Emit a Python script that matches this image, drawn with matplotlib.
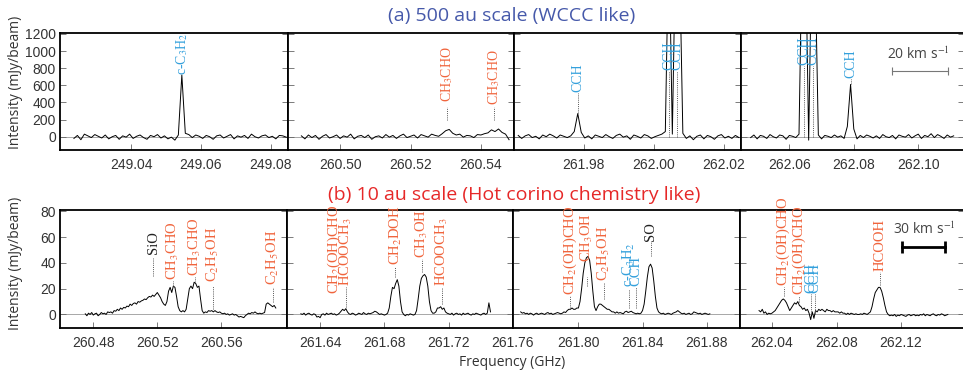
import numpy as np
import matplotlib
matplotlib.use("Agg")
import matplotlib.pyplot as plt

plt.rcParams['mathtext.fontset'] = 'stix'

ORANGE = '#f0643c'
BLUE = '#33a0dc'
DARK = '#222222'

# ------------------------------------------------------------------
# spectra: first channel (GHz), channel width 1 MHz, intensity (mJy/beam)
STEP = 0.001

# (a) 500 au scale
a_start = [249.0235, 260.489, 261.9613, 262.048]
a1 = [-20, 15, -35, 30, 10, -10, 25, 5, -15, 20, -25, 0, 15, -30, 10, -5, 30, -20, 5, 20,
      -10, -30, 15, 0, 25, -15, 10, -25, -5, -40, 20,
      720,
      40, 25, -10, 20, 5, -20, 15, 0, -30, 10, 20, -15, 5, 25, -25, 10, -5, 15, -20, 30,
      0, -15, 10, 20, -10, 5, -25, 15, 10, -5]
a2 = [10, -25, 20, -10, 15, -30, 5, 25, -15, 0, 20, -20, 10, -5, 30, -25, 5, 15, -10, 20,
      -30, 0, 10, -15, 25, -5, 15, -20, 10, 30, -10, 5, 20, -15, 25, 10, -5, 30, 15, 5,
      35, 70, 85, 40, 20, 30, -5, 15, 10, -10, 25, 20, 35, 45, 80, 60, 90, 50, 30, -35]
a3 = [15, -20, 10, 25, -10, 5, -25, 20, 0, 30, 10, -15, 20, 5, -10, 10,
      60, 270, 50,
      -15, 10, -25, 20, 5, -10, 25, 0, -20, 15, 30, -5, 10, -30, 20, 5, -15, 25, 10, -20, 0, 15, 30,
      60, 2400, 30, 2400, 2200, 40,
      -20, 10, -35, 5, 20, -25, 15, 0, -30, 10, 25, -15, 5, -20, 15, -10]
a4 = [-10, 20, -25, 15, 5, -20, 25, 0, -15, 20, 10, -30, 15, 5, -10,
      30, 2300, 2300, -40, 2300, 2000, 20,
      -25, 15, 5, -10, 20, -5, 10, -20,
      120, 610, 90,
      -25, 15, -10, 20, 5, -15, 10, -20, 25, 0, -10, 15, -25, 20, 5, -5, 25, -15, 10, 30,
      -20, 15, 0, 35, -10, 25, 5, -20, 20, -5, 10]

# (b) 10 au scale
b_start = [260.475, 261.628, 261.764, 262.032]
b1 = [0.5, -1, 1, 0, 1.5, -0.5, 0.5, 1, -1, 0, 1.5, 0.5, 1, 0, 2,
      1.5, 2, 1, 3, 2.5, 4, 3, 5, 4, 5.5, 5, 6.5, 6, 8, 7, 8.5, 9, 8, 10, 9.5,
      10.5, 11, 12, 11.5, 13, 14, 13.5, 15, 14, 15.5, 17,
      15, 13, 10, 8, 7, 10, 18, 21, 17, 22, 21, 14, 6, 3, 2, 3, 2, 4, 12, 20, 22, 20, 25, 24,
      21, 22, 12, 3, 1,
      2, 1.5, 3, 2.5, 3, 2, 3, 2, 1.5, 2, 1, 0.5, 1, 0, 0.5, -0.5, 0, 0.5, -0.5, 0,
      -1, -2, -1.5, -2, -2.5, -1, 0, 1, 0.5, 1.5, 1, 2, 1, 0.5, 1, 0.5, 1, 1.5,
      8, 9, 8, 7, 6, 7, 5]
b2 = [0.5, 0, 1, -0.5, 0.5, 1, 0, -0.5, 0.5, 0,
      -2, -1.5, -2.5,
      0, 0.5, -0.5, 1, 0, 0.5, 1, 0, 0.5, -0.5, 0, 1,
      2.5, 4, 3, 4.5, 2, 0.5,
      0, 1, 0.5, -0.5, 0, 1, 0.5, 0, 1.5, 0.5, 0, 1, 0.5, 1,
      1.5, 2.5, 2, 1, 0, 0.5, 0, -0.5,
      0, 1, 5, 14, 21, 20, 24, 27, 22, 10, 2, 0,
      -1, 0, -0.5, 0.5, 0, -0.5, 0,
      3, 12, 22, 28, 30, 31, 29, 22, 10, 3, 1, 1, 2, 5, 5, 6, 4, 5, 2,
      1, 0.5, 0, 1, -0.5, 0.5, 1, 0, 0.5, -0.5, 1, 0, 0.5, 1, 0, -0.5, 0.5, 0, 1, 0.5,
      0, -0.5, 0.5, 1, 0, 1, 9, 2]
b3 = [2, 1, 1.5, 0.5, 1, 0, 1, 0.5, -0.5, 0.5, 1, 0, 0.5, 1, 0.5, 0, 1, 1.5, 0.5, 1,
      0, 0.5, 1, 1.5, 1, 0.5, 1, 2, 1.5,
      3, 4, 4, 5, 4, 4, 5,
      5, 10, 20, 32, 40, 44, 45, 42, 32, 18, 6, 3, 6, 8, 8, 7, 6, 5, 4, 4, 3,
      2, 2, 1, 2, 1, 1.5, 1, 0.5, 2, 2.5, 1.5, 2, 2.5, 1.5, 1, 0.5, 1, 0.5,
      1, 3, 8, 18, 29, 37, 39, 36, 26, 14, 5, 2, 1,
      0.5, 1, 0, 0.5, 1, 0.5, 0, 1, 1.5, 2, 3, 2, 1, 0.5, 1, 0, 0.5, 1, 0, 0.5,
      2, 1.5, 1, 0.5, 1, 0, 0.5, 1, 0.5, 0, 0.5]
b4 = [3, 2, 4, 1, 2, 0, 1, 0.5, 1, 2, 3, 5, 7, 9, 11, 12, 11, 9, 6, 3, 5, 7, 9, 8, 10,
      7, 6, 4, 5, 3, 4, 1,
      -4, 2, -3, 3, 2,
      4, 3, 4, 3, 2, 4, 3, 3, 2, 3, 2, 2, 2, 1, 2, 1, 1, 0, 1, 0, 1, 0.5, 0, 0.5,
      0, 0, 0.5, 0, 1, 0.5, 0, 1,
      2, 6, 12, 17, 19, 21, 21, 18, 13, 7, 2, 0,
      -1, -0.5, -1, 0, -1.5, -0.5, -1, 0, -0.5, -1, -1.5, -0.5, 0, -1, -0.5, 0, -1, -0.5,
      -1, 0, -0.5, 0.5, -1, 0, -0.5, -1, 0, 0.5, -0.5, -1, 0, -0.5, 0.5, 0, -1, -0.5, 0]

# line identifications: (name, freq, colour, text bottom, dotted line top, dotted line bottom)
lab_a = [
    [("c-C$_3$H$_2$", 249.0545, BLUE, 715, 715, 715)],
    [("CH$_3$CHO", 260.5305, ORANGE, 410, 350, 190),
     ("CH$_3$CHO", 260.5437, ORANGE, 370, 350, 190)],
    [("CCH", 261.9783, BLUE, 525, 505, 280),
     ("CCH", 262.0043, BLUE, 780, 770, 0),
     ("CCH", 262.0065, BLUE, 780, 770, 0)],
    [("CCH", 262.0645, BLUE, 840, 830, 0),
     ("CCH", 262.0672, BLUE, 840, 830, 0),
     ("CCH", 262.0790, BLUE, 682, 670, 610)],
]
lab_b = [
    [("SiO", 260.5175, DARK, 47, 44, 30),
     ("CH$_3$CHO", 260.5300, ORANGE, 27, 26, 22),
     ("CH$_3$CHO", 260.5436, ORANGE, 30, 29, 25),
     ("C$_2$H$_5$OH", 260.5548, ORANGE, 25, 22, 4),
     ("C$_2$H$_5$OH", 260.5923, ORANGE, 23, 21, 10)],
    [("CH$_2$(OH)CHO", 261.6490, ORANGE, 16, 16, 16),
     ("HCOOCH$_3$", 261.6560, ORANGE, 22, 21, 6),
     ("CH$_2$DOH", 261.6869, ORANGE, 38, 37, 29),
     ("CH$_3$OH", 261.7036, ORANGE, 44, 43, 33),
     ("HCOOCH$_3$", 261.7160, ORANGE, 22, 21, 8)],
    [("CH$_2$(OH)CHO", 261.7948, ORANGE, 15, 14, 5),
     ("CH$_3$OH", 261.8052, ORANGE, 41, 29, 22),
     ("C$_2$H$_5$OH", 261.8159, ORANGE, 26, 25, 12),
     ("c-C$_3$H$_2$", 261.8316, BLUE, 21, 20, 5),
     ("CCH", 261.8357, BLUE, 22, 21, 5),
     ("SO", 261.8450, DARK, 57, 56, 45)],
    [("CH$_2$(OH)CHO", 262.0473, ORANGE, 22, 21, 14),
     ("CH$_2$(OH)CHO", 262.0567, ORANGE, 15, 14, 10),
     ("CCH", 262.0641, BLUE, 17, 16, 0),
     ("CCH", 262.0665, BLUE, 17, 16, 0),
     ("HCOOH", 262.1071, ORANGE, 34, 33, 23)],
]

# axis ranges and ticks
a_xlim = [(249.0195, 249.085), (260.4852, 260.5494), (261.9601, 262.0249), (262.045, 262.1142)]
b_xlim = [(260.4592, 260.601), (261.6194, 261.76), (261.7592, 261.9008), (262.0202, 262.159)]
a_ticks = [[249.04, 249.06, 249.08], [260.50, 260.52, 260.54], [261.98, 262.00, 262.02],
           [262.06, 262.08, 262.10]]
b_ticks = [[260.48, 260.52, 260.56], [261.64, 261.68, 261.72, 261.76], [261.80, 261.84, 261.88],
           [262.04, 262.08, 262.12]]

# ------------------------------------------------------------------
W, H = 963, 374
fig = plt.figure(figsize=(W / 100, H / 100), dpi=100)


def px_axes(x0, x1, y0, y1):
    return fig.add_axes([x0 / W, 1 - y1 / H, (x1 - x0) / W, (y1 - y0) / H])


def draw_panel(ax, start, vals, xlim, ticks, ylim, yticks, labels, lab_fs, first):
    freq = start + STEP * np.arange(len(vals))
    ax.axhline(0, color='#999999', lw=0.6, zorder=1)
    ax.plot(freq, vals, color='black', lw=0.7, zorder=2)
    ax.set_xlim(*xlim)
    ax.set_ylim(*ylim)
    ax.set_xticks(ticks)
    ax.set_xticklabels(['%.2f' % t for t in ticks])
    ax.set_yticks(yticks)
    ax.tick_params(direction='in', length=4, width=0.6, color='#666666', labelcolor='#333333',
                   labelsize=10, right=True, labelleft=first, pad=6)
    ax.tick_params(axis='y', pad=3)
    for lab in ax.get_xticklabels() + ax.get_yticklabels():
        lab.set_family('Liberation Sans')
    for s in ax.spines.values():
        s.set_linewidth(1.3)
    for name, f, c, yt, l1, l0 in labels:
        if l1 > l0:
            ax.plot([f, f], [l0, l1], ls=(0, (1, 1.2)), color='#555555', lw=0.7, zorder=3)
        ax.text(f, yt, name, rotation=90, ha='center', va='bottom', color=c, fontsize=lab_fs,
                family='Liberation Serif', clip_on=False, zorder=4)


a_px = [(60, 288), (288, 514), (514, 741), (741, 964)]
b_px = [(60, 287), (287, 513), (513, 740), (740, 964)]
a_data = [a1, a2, a3, a4]
b_data = [b1, b2, b3, b4]

axes_a = []
for i in range(4):
    ax = px_axes(a_px[i][0], a_px[i][1], 33, 150)
    draw_panel(ax, a_start[i], a_data[i], a_xlim[i], a_ticks[i], (-155, 1210),
               [0, 200, 400, 600, 800, 1000, 1200], lab_a[i], 10, i == 0)
    axes_a.append(ax)

axes_b = []
for i in range(4):
    ax = px_axes(b_px[i][0], b_px[i][1], 210, 328)
    draw_panel(ax, b_start[i], b_data[i], b_xlim[i], b_ticks[i], (-10.5, 81),
               [0, 20, 40, 60, 80], lab_b[i], 10.5, i == 0)
    axes_b.append(ax)

# velocity scale bars
ax = axes_a[3]
ax.plot([262.0918, 262.1093], [767, 767], color='#777777', lw=0.8, marker='|', ms=6, mew=0.8)
ax.text(262.1000, 955, "20 km s$^{-1}$", ha='center', va='center', fontsize=10,
        color='#444444', family='Open Sans')
ax = axes_b[3]
ax.plot([262.1206, 262.1475], [52, 52], color='black', lw=2, marker='|', ms=8, mew=2)
ax.text(262.1345, 65.5, "30 km s$^{-1}$", ha='center', va='center', fontsize=10,
        color='#444444', family='Open Sans')

# titles and axis labels
fig.text(512 / W, 1 - 16 / H, "(a) 500 au scale (WCCC like)", ha='center', va='center',
         fontsize=14, color='#4659aa', family='Open Sans')
fig.text(514 / W, 1 - 195 / H, "(b) 10 au scale (Hot corino chemistry like)", ha='center',
         va='center', fontsize=14, color='#e62828', family='Open Sans')
fig.text(512 / W, 1 - 362 / H, "Frequency (GHz)", ha='center', va='center', fontsize=10,
         color='#333333', family='Open Sans')
fig.text(16 / W, 1 - 82 / H, "Intensity (mJy/beam)", rotation=90, ha='center', va='center',
         fontsize=10, color='#333333', family='Open Sans')
fig.text(16 / W, 1 - 263 / H, "Intensity (mJy/beam)", rotation=90, ha='center', va='center',
         fontsize=10, color='#333333', family='Open Sans')

fig.savefig('out.png', dpi=100)
